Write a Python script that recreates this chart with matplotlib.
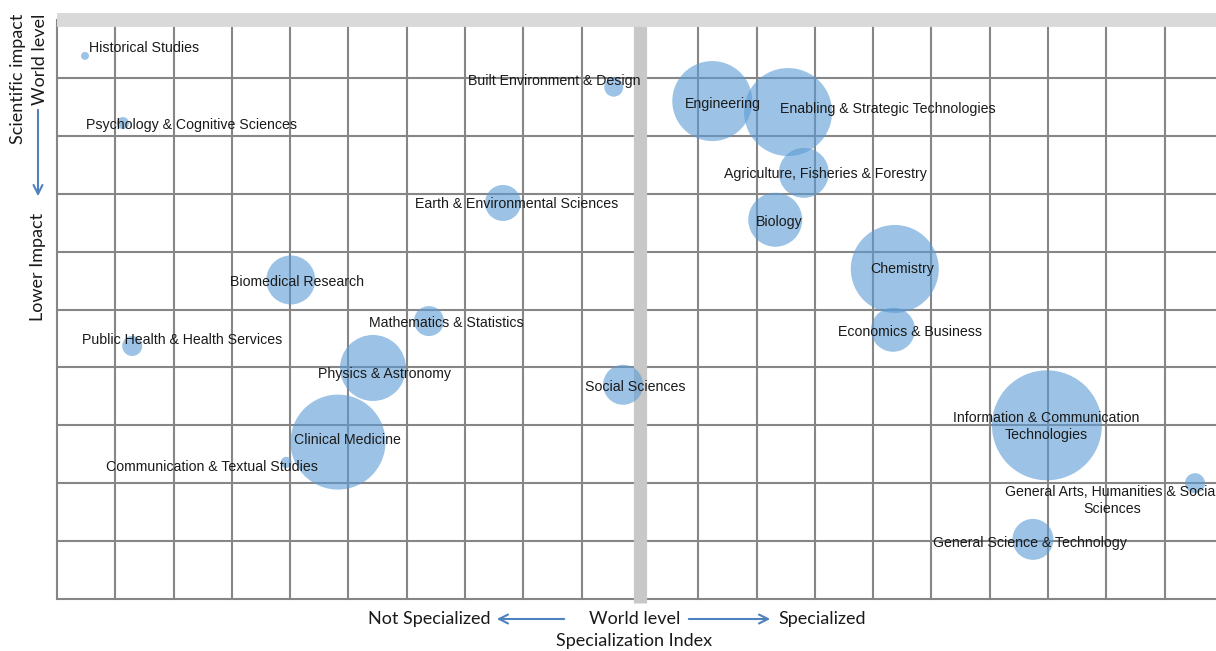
import matplotlib
matplotlib.use("Agg")
import matplotlib.pyplot as plt
from matplotlib.patches import FancyArrowPatch

# field data: specialization index (x), impact rank (y), bubble size (area)
FIELDS = [
    "Historical Studies",
    "Psychology & Cognitive Sciences",
    "Built Environment & Design",
    "Engineering",
    "Enabling & Strategic Technologies",
    "Agriculture, Fisheries & Forestry",
    "Biology",
    "Earth & Environmental Sciences",
    "Chemistry",
    "Economics & Business",
    "Biomedical Research",
    "Mathematics & Statistics",
    "Public Health & Health Services",
    "Physics & Astronomy",
    "Social Sciences",
    "Clinical Medicine",
    "Communication & Textual Studies",
    "Information & Communication\nTechnologies",
    "General Arts, Humanities & Social\nSciences",
    "General Science & Technology",
]
SPEC_X = [0.48, 1.13, 9.55, 11.24, 12.54, 12.81, 12.32, 7.65, 14.37, 14.34,
          4.01, 6.38, 1.29, 5.42, 9.71, 4.82, 3.93, 16.98, 19.52, 16.74]
IMPACT_Y = [9.38, 8.22, 8.84, 8.60, 8.41, 7.36, 6.55, 6.84, 5.70, 4.65,
            5.51, 4.80, 4.37, 3.99, 3.70, 2.71, 2.36, 3.00, 2.00, 1.03]
SIZE = [16, 36, 90, 1600, 1936, 625, 729, 324, 1936, 484,
        600, 225, 100, 1089, 400, 2256, 30, 3025, 100, 420]

# label offsets from bubble centre, in pixels (layout only)
LABEL_OFFSETS = {
    "Historical Studies": (4, 8, "left"),
    "Psychology & Cognitive Sciences": (69, -2, "center"),
    "Built Environment & Design": (-60, 6, "center"),
    "Engineering": (11, -3, "center"),
    "Enabling & Strategic Technologies": (100, 3, "center"),
    "Agriculture, Fisheries & Forestry": (22, -1, "center"),
    "Biology": (4, -2, "center"),
    "Earth & Environmental Sciences": (14, -1, "center"),
    "Chemistry": (7, 0, "center"),
    "Economics & Business": (17, -2, "center"),
    "Biomedical Research": (6, -2, "center"),
    "Mathematics & Statistics": (17, -2, "center"),
    "Public Health & Health Services": (50, 6, "center"),
    "Physics & Astronomy": (12, -6, "center"),
    "Social Sciences": (12, -2, "center"),
    "Clinical Medicine": (9, 2, "center"),
    "Communication & Textual Studies": (-74, -5, "center"),
    "Information & Communication\nTechnologies": (-1, -1, "center"),
    "General Arts, Humanities & Social\nSciences": (-190, -17, "left"),
    "General Science & Technology": (-3, -4, "center"),
}

GRID_X = list(range(0, 20))
GRID_Y = list(range(0, 10))

W, H, DPI = 1216, 651, 100
fig = plt.figure(figsize=(W / DPI, H / DPI), dpi=DPI)
x0, x1, y0, y1 = 57, 1216, 599, 20
ax = fig.add_axes([x0 / W, 1 - y0 / H, (x1 - x0) / W, (y0 - y1) / H])
ax.set_xlim(0, (x1 - x0) / 58.3)
ax.set_ylim(0, 10)
for s in ax.spines.values():
    s.set_visible(False)
ax.set_xticks([])
ax.set_yticks([])

grid_c = "#868686"
for gx in GRID_X:
    ax.axvline(gx, color=grid_c, lw=1.5, zorder=1, clip_on=False)
for gy in GRID_Y:
    ax.axhline(gy, color=grid_c, lw=1.5, zorder=1, clip_on=False)

# world-level lines
ax.plot([10, 10], [-0.07, 10], color="#c8c8c8", lw=9.5, zorder=3,
        clip_on=False, solid_capstyle="butt")
ax.plot([0, ax.get_xlim()[1]], [10, 10], color="#d9d9d9", lw=10,
        zorder=3, clip_on=False, solid_capstyle="butt")

px2pt = 72 / DPI
sizes = [(2 * (v ** 0.5) * px2pt) ** 2 for v in SIZE]
ax.scatter(SPEC_X, IMPACT_Y, s=sizes, color="#5b9bd5", alpha=0.6,
           edgecolors="none", zorder=4, clip_on=False)

for name, x, y in zip(FIELDS, SPEC_X, IMPACT_Y):
    dx, dy, ha = LABEL_OFFSETS[name]
    ax.annotate(name, (x, y), xytext=(dx, dy), textcoords="offset pixels",
                ha=ha, va="center", multialignment="center",
                fontsize=10.2, family="Liberation Sans",
                color="#1a1a1a", zorder=5, linespacing=1.3,
                annotation_clip=False)

# axis captions
lab = dict(family="Lato", fontsize=13, color="#1a1a1a")
fig.text(491 / W, 1 - 619 / H, "Not Specialized", ha="right", va="center", **lab)
fig.text(635 / W, 1 - 619 / H, "World level", ha="center", va="center", **lab)
fig.text(778 / W, 1 - 619 / H, "Specialized", ha="left", va="center", **lab)
fig.text(634 / W, 1 - 641 / H, "Specialization Index", ha="center", va="center", **lab)
arrow = dict(arrowstyle="->", color="#4f81bd", lw=1.5, mutation_scale=16)
fig.add_artist(FancyArrowPatch((567 / W, 1 - 619 / H), (494 / W, 1 - 619 / H),
                               transform=fig.transFigure, **arrow))
fig.add_artist(FancyArrowPatch((686 / W, 1 - 619 / H), (773 / W, 1 - 619 / H),
                               transform=fig.transFigure, **arrow))

fig.text(18 / W, 1 - 14 / H, "Scientific impact", rotation=90, ha="center", va="top", **lab)
fig.text(40 / W, 1 - 14 / H, "World level", rotation=90, ha="center", va="top", **lab)
fig.text(38 / W, 1 - 267 / H, "Lower Impact", rotation=90, ha="center", va="center", **lab)
fig.add_artist(FancyArrowPatch((38 / W, 1 - 107 / H), (38 / W, 1 - 199 / H),
                               transform=fig.transFigure, **arrow))

fig.savefig("out.png", dpi=DPI)
